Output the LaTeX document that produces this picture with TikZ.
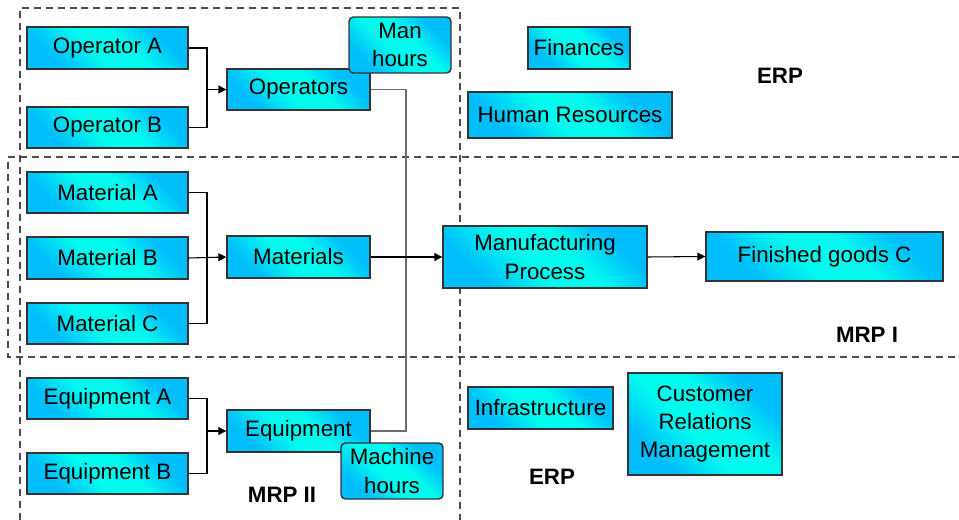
\documentclass[tikz,border=0pt]{standalone}
\usepackage{fontspec}
\setmainfont{Liberation Sans}
\usetikzlibrary{arrows.meta}

\definecolor{boxblue}{RGB}{0,190,250}
\definecolor{boxcyan}{RGB}{0,250,238}
\definecolor{linegray}{RGB}{110,110,110}
\pgfdeclarehorizontalshading{boxshade}{100bp}{color(0bp)=(boxblue); color(28bp)=(boxblue); color(44bp)=(boxcyan); color(58bp)=(boxcyan); color(72bp)=(boxblue); color(100bp)=(boxblue)}

\begin{document}
\begin{tikzpicture}[x=0.02cm, y=-0.02cm,
	wh/.style 2 args={minimum width=#1*0.02cm, minimum height=#2*0.02cm},
	box/.style={draw=black!80, line width=0.8pt, shading=boxshade, shading angle=45,
		inner sep=0pt, align=center, font=\fontsize{12.7}{16}\selectfont},
	rbox/.style={box, rounded corners=2.5pt},
	region/.style={draw=black!70, dash pattern=on 4pt off 2.8pt, line width=0.6pt},
	tag/.style={font=\fontsize{12.7}{16}\selectfont\bfseries},
	link/.style={draw=black, line width=0.6pt},
	arr/.style={link, -{Triangle[length=4.5pt,width=4.5pt]}}]

	\useasboundingbox (0,0) rectangle (959,520);

	% region borders
	\draw[region] (20,520) -- (20,8) -- (460,8) -- (460,520);
	\draw[region] (959,157) -- (8,157) -- (8,357) -- (959,357);

	% operators
	\node[box, wh={161}{42}] (opA) at (107.5,48) {Operator A};
	\node[box, wh={161}{41}] (opB) at (107.5,127.5) {Operator B};
	\node[box, wh={143}{41}] (ops) at (298.5,89.5) {Operators};
	\node[rbox, wh={102}{56}] (manh) at (400,45) {Man\\hours};

	% materials
	\node[box, wh={161}{41}] (matA) at (107.5,192.5) {Material A};
	\node[box, wh={161}{42}] (matB) at (107.5,258) {Material B};
	\node[box, wh={161}{41}] (matC) at (107.5,323.5) {Material C};
	\node[box, wh={143}{42}] (mats) at (298.5,257) {Materials};

	% equipment
	\node[box, wh={161}{41}] (eqA) at (107.5,398.5) {Equipment A};
	\node[box, wh={161}{41}] (eqB) at (107.5,473.5) {Equipment B};
	\node[box, wh={143}{42}] (eqp) at (298.5,431) {Equipment};
	\node[rbox, wh={102}{56}] (mach) at (392,471) {Machine\\hours};

	% process and product
	\node[box, wh={204}{62}] (manu) at (545,257) {Manufacturing\\Process};
	\node[box, wh={237}{49}] (fgood) at (824.5,256.5) {Finished goods C};

	% ERP modules
	\node[box, wh={102}{42}] (fin) at (579,48) {Finances};
	\node[box, wh={204}{46}] (hr) at (570,115) {Human Resources};
	\node[box, wh={145}{42}] (infra) at (540.5,408) {Infrastructure};
	\node[box, wh={154}{102}] (crm) at (705,424) {Customer\\Relations\\Management};

	% region labels
	\node[tag] (erpT) at (780,76) {ERP};
	\node[tag] (mrpI) at (867,335) {MRP I};
	\node[tag] (mrpII) at (282,495) {MRP II};
	\node[tag] (erpB) at (552,477) {ERP};

	% junctions
	\coordinate (jop) at (207,89.5);
	\coordinate (jmat) at (207,257);
	\coordinate (jeq) at (207,431);
	\coordinate (bendT) at (406,89.5);
	\coordinate (bendB) at (406,431);

	% connectors
	\draw[link] (opA.east) -| (jop);
	\draw[link] (opB.east) -| (jop);
	\draw[arr] (jop) -- (ops.west);

	\draw[link] (matA.east) -| (jmat);
	\draw[link] (matC.east) -| (jmat);
	\draw[arr] (matB.east) -- (mats.west);

	\draw[link] (eqA.east) -| (jeq);
	\draw[link] (eqB.east) -| (jeq);
	\draw[arr] (jeq) -- (eqp.west);

	\draw[link, draw=linegray] (ops.east) -- (bendT) -- (bendB) -- (eqp.east);

	\draw[arr] (mats.east) -- (manu.west);
	\draw[arr] (manu.east) -- (fgood.west);

\end{tikzpicture}
\end{document}
